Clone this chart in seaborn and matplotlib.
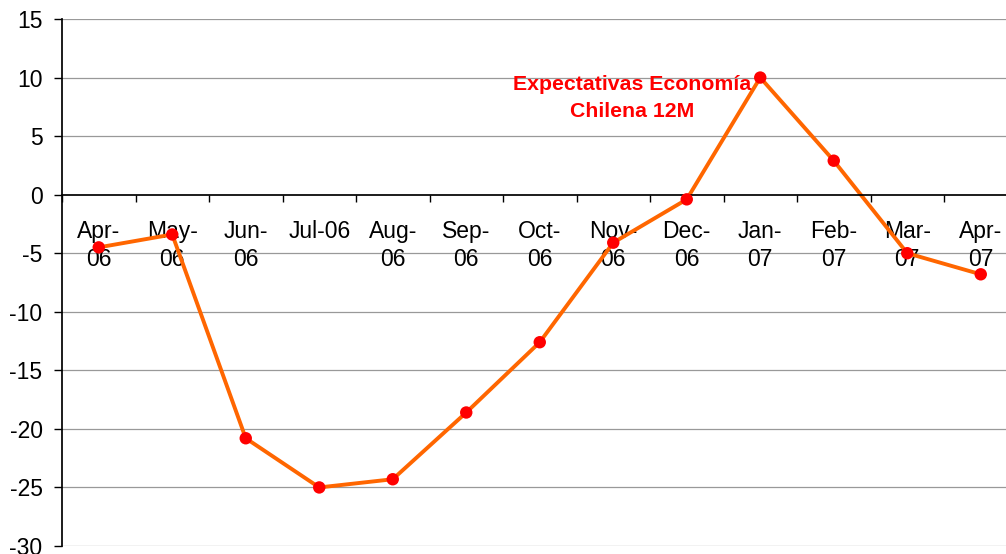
import numpy as np
import pandas as pd
import seaborn as sns
import matplotlib.pyplot as plt

sns.set_theme(style="white")
plt.rcParams['font.family'] = ['Liberation Sans', 'DejaVu Sans']
plt.rcParams['axes.unicode_minus'] = False

months = ["Apr-\n06", "May-\n06", "Jun-\n06", "Jul-06", "Aug-\n06", "Sep-\n06", "Oct-\n06",
          "Nov-\n06", "Dec-\n06", "Jan-\n07", "Feb-\n07", "Mar-\n07", "Apr-\n07"]
values = [-4.5, -3.4, -20.8, -25.0, -24.3, -18.6, -12.6, -4.1, -0.4, 10.0, 2.9, -5.0, -6.8]
yticks = [15, 10, 5, 0, -5, -10, -15, -20, -25, -30]

df = pd.DataFrame({"pos": np.arange(len(months)), "val": values})

fig = plt.figure(figsize=(10.06, 5.54), dpi=100)
ax = fig.add_axes([62 / 1006, 1 - 546 / 554, 955.5 / 1006, 527 / 554])

for t in yticks:
    if t != 0:
        ax.axhline(t, color="#999999", lw=0.9, zorder=0)

sns.lineplot(data=df, x="pos", y="val", color="#ff6600", lw=2.8, ax=ax, zorder=2)
sns.scatterplot(data=df, x="pos", y="val", color="#ff0000", s=80, edgecolor="none", ax=ax, zorder=3)

ax.set_xlim(-0.5, len(months) - 0.5)
ax.set_ylim(-30, 15)
ax.set_yticks(yticks)
ax.tick_params(axis="y", labelsize=16.5, length=6, width=1, direction="out", left=True,
               color="black", labelcolor="black", pad=8)

# x axis sits at y = 0
ax.spines["bottom"].set_position(("data", 0))
ax.spines["bottom"].set_color("black")
ax.spines["left"].set_color("black")
ax.spines["top"].set_visible(False)
ax.spines["right"].set_visible(False)
ax.set_xticks(np.arange(len(months) + 1) - 0.5)
ax.set_xticklabels([])
ax.tick_params(axis="x", which="major", length=5, width=1, direction="out", bottom=True, color="black")
ax.set_xticks(np.arange(len(months)), minor=True)
ax.set_xticklabels(months, minor=True, fontsize=16.5, va="top", linespacing=1.3)
ax.tick_params(axis="x", which="minor", length=0, pad=18, labelcolor="black")

ax.set_xlabel("")
ax.set_ylabel("")

ax.text(7.25, 8.25, "Expectativas Economía\nChilena 12M", color="#ff0000", fontsize=15.3,
        fontweight="bold", ha="center", va="center", linespacing=1.5)

fig.savefig("out.png", dpi=100)
